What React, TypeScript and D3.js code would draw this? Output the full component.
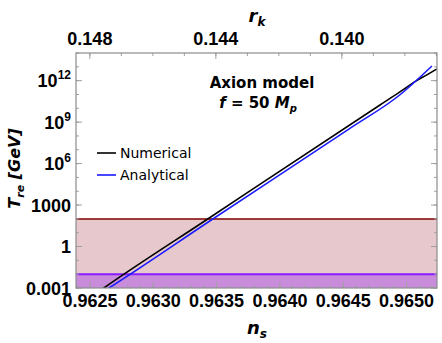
import React from "react";
import * as d3 from "d3";

// numerical solution (n_s, log10 T_re)
const nsNumerical = [0.96252, 0.96261, 0.96343, 0.96479, 0.96495, 0.96507, 0.96516, 0.96524];
const logTNumerical = [-3.58, -3.0, 1.99, 10.24, 11.2, 11.95, 12.42, 12.85];
// analytical formula
const nsAnalytical = [0.962556, 0.96265, 0.96347, 0.964553, 0.964948, 0.9652];
const logTAnalytical = [-3.54, -3.0, 1.99, 8.55, 10.98, 13.06];

const nsTicks = [0.9625, 0.963, 0.9635, 0.964, 0.9645, 0.965];
const rkTicks = [0.148, 0.144, 0.14];
const yTicks = [1e-3, 1, 1e3, 1e6, 1e9, 1e12];
const yTickLabels = ["0.001", "1", "1000", "10^6", "10^9", "10^12"];

const bbnLimit = 0.01; // GeV
const ewLimit = 100; // GeV

const legendItems = [
  { label: "Numerical", color: "#000000" },
  { label: "Analytical", color: "#1a1aff" }
];

const width = 442;
const height = 343;
const margin = { top: 53, right: 5, bottom: 55, left: 76 };

const App = () => {
  const plotW = width - margin.left - margin.right;
  const plotH = height - margin.top - margin.bottom;

  const x = d3.scaleLinear().domain([0.96239, 0.96524]).range([0, plotW]);
  const rk = d3.scaleLinear().domain([0.14844, 0.13698]).range([0, plotW]);
  const y = d3.scaleLog().domain([1e-3, 1e14]).range([plotH, 0]);

  const line = d3
    .line<[number, number]>()
    .x(d => x(d[0]))
    .y(d => y(Math.pow(10, d[1])))
    .curve(d3.curveMonotoneX);

  const numPts = nsNumerical.map((v, i) => [v, logTNumerical[i]] as [number, number]);
  const anaPts = nsAnalytical.map((v, i) => [v, logTAnalytical[i]] as [number, number]);

  const minorX = d3.range(0.9624, 0.96525, 0.0001);
  const minorY = d3.range(-3, 15).map(e => Math.pow(10, e));
  const minorRk = d3.range(0.137, 0.1485, 0.001);

  const tickFont = "'Liberation Sans', Arial, sans-serif";
  const textFont = "'DejaVu Sans', sans-serif";
  const frame = "#8c8c8c";
  const tickColor = "#a0a0a0";

  const renderSup = (lab: string) => {
    if (lab.startsWith("10^")) {
      return (
        <>
          10<tspan dy={-8} fontSize={12}>{lab.slice(3)}</tspan>
        </>
      );
    }
    return lab;
  };

  return (
    <svg
      width={width}
      height={height}
      style={{ position: "absolute", left: 0, top: 0, background: "#fff" }}
    >
      <defs>
        <clipPath id="plotClip">
          <rect width={plotW} height={plotH} />
        </clipPath>
      </defs>
      <g transform={`translate(${margin.left},${margin.top})`}>
        {/* shaded bands */}
        <g clipPath="url(#plotClip)">
          <rect x={0} y={y(ewLimit)} width={plotW} height={y(bbnLimit) - y(ewLimit)} fill="#e7c9cd" />
          <rect x={0} y={y(bbnLimit)} width={plotW} height={plotH - y(bbnLimit)} fill="#c98cdb" />
          <line x1={0} x2={plotW} y1={y(ewLimit)} y2={y(ewLimit)} stroke="#800000" strokeWidth={1.5} />
          <line x1={0} x2={plotW} y1={y(bbnLimit)} y2={y(bbnLimit)} stroke="#8a1aff" strokeWidth={2} />
        </g>

        {/* ticks */}
        {minorX.map((t, i) => (
          <line key={"mx" + i} x1={x(t)} x2={x(t)} y1={plotH} y2={plotH - 3} stroke={tickColor} />
        ))}
        {nsTicks.map((t, i) => (
          <line key={"tx" + i} x1={x(t)} x2={x(t)} y1={plotH} y2={plotH - 6} stroke={tickColor} />
        ))}
        {minorRk.map((t, i) => (
          <line key={"rk" + i} x1={rk(t)} x2={rk(t)} y1={0} y2={3} stroke={tickColor} />
        ))}
        {rkTicks.map((t, i) => (
          <line key={"rkt" + i} x1={rk(t)} x2={rk(t)} y1={0} y2={6} stroke={tickColor} />
        ))}
        {minorY.map((t, i) => (
          <g key={"my" + i} stroke={tickColor}>
            <line x1={0} x2={3} y1={y(t)} y2={y(t)} />
            <line x1={plotW} x2={plotW - 3} y1={y(t)} y2={y(t)} />
          </g>
        ))}
        {yTicks.map((t, i) => (
          <g key={"ty" + i} stroke={tickColor}>
            <line x1={0} x2={6} y1={y(t)} y2={y(t)} />
            <line x1={plotW} x2={plotW - 6} y1={y(t)} y2={y(t)} />
          </g>
        ))}

        {/* curves */}
        <g clipPath="url(#plotClip)">
          <path d={line(numPts) ?? ""} fill="none" stroke="#000" strokeWidth={1.6} />
          <path d={line(anaPts) ?? ""} fill="none" stroke="#1a1aff" strokeWidth={1.6} />
        </g>

        <rect width={plotW} height={plotH} fill="none" stroke={frame} strokeWidth={1.2} />

        {/* tick labels */}
        {nsTicks.map((t, i) => (
          <text key={"lx" + i} x={x(t)} y={plotH + 19} textAnchor="middle" fontFamily={tickFont} fontWeight="bold" fontSize={18}>
            {t.toFixed(4)}
          </text>
        ))}
        {rkTicks.map((t, i) => (
          <text key={"lr" + i} x={rk(t)} y={-8} textAnchor="middle" fontFamily={tickFont} fontWeight="bold" fontSize={18}>
            {t.toFixed(3)}
          </text>
        ))}
        {yTicks.map((t, i) => (
          <text key={"ly" + i} x={-5} y={y(t) + 6.5} textAnchor="end" fontFamily={tickFont} fontWeight="bold" fontSize={18}>
            {renderSup(yTickLabels[i])}
          </text>
        ))}

        {/* axis titles */}
        <text x={181} y={plotH + 46} textAnchor="middle" fontFamily={textFont} fontStyle="italic" fontWeight="bold" fontSize={18}>
          n<tspan fontSize={12} dy={4}>s</tspan>
        </text>
        <text x={181} y={-31} textAnchor="middle" fontFamily={textFont} fontStyle="italic" fontWeight="bold" fontSize={18}>
          r<tspan fontSize={12} dy={4}>k</tspan>
        </text>
        <text
          transform={`translate(${-56},${plotH / 2 - 2}) rotate(-90)`}
          textAnchor="middle"
          fontFamily={textFont}
          fontStyle="italic"
          fontWeight="bold"
          fontSize={16}
        >
          T<tspan fontSize={11} dy={4}>re</tspan>
          <tspan dy={-4}>{"  [GeV]"}</tspan>
        </text>

        {/* annotation */}
        <text x={186} y={35} textAnchor="middle" fontFamily={textFont} fontWeight="bold" fontSize={15}>
          Axion model
        </text>
        <text x={182} y={55} textAnchor="middle" fontFamily={textFont} fontWeight="bold" fontSize={15}>
          <tspan fontStyle="italic">f</tspan> = 50 <tspan fontStyle="italic">M</tspan>
          <tspan fontSize={10} dy={4} fontStyle="italic">p</tspan>
        </text>

        {/* legend */}
        {legendItems.map((d, i) => (
          <g key={d.label} transform={`translate(21,${100 + i * 22})`}>
            <line x1={0} x2={19} y1={0} y2={0} stroke={d.color} strokeWidth={1.6} />
            <text x={23} y={5} fontFamily={textFont} fontSize={14}>
              {d.label}
            </text>
          </g>
        ))}
      </g>
    </svg>
  );
};

export default App;
